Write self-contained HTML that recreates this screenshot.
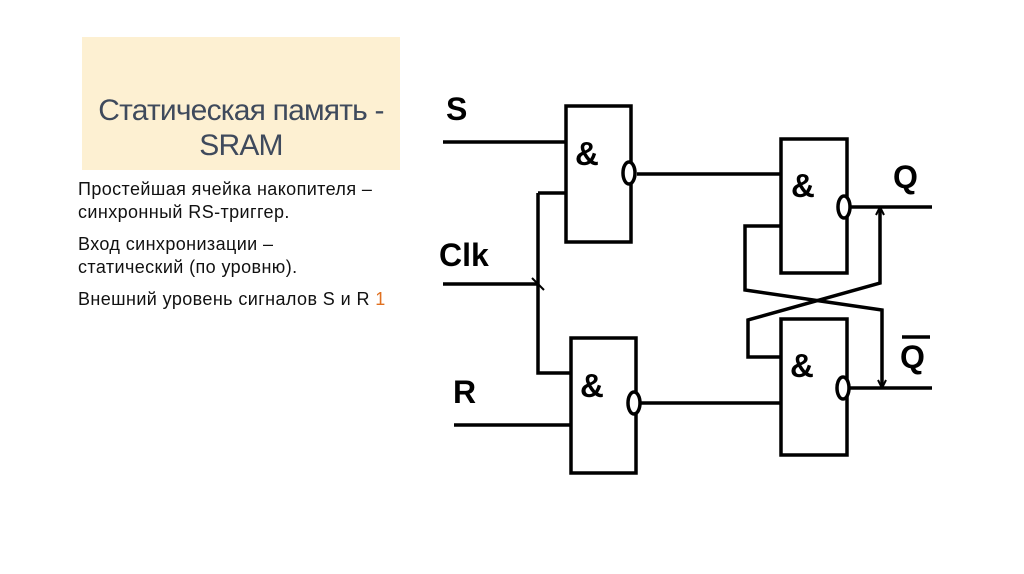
<!DOCTYPE html>
<html><head><meta charset="utf-8"><style>
body{margin:0;width:1024px;height:574px;background:#fff;position:relative;overflow:hidden;font-family:"Liberation Sans",sans-serif}
.box{position:absolute;left:82px;top:37px;width:318px;height:133px;background:#fdf0d2}
.title{position:absolute;left:82px;top:93px;width:318px;text-align:center;font-size:30px;line-height:35px;color:#3f4a5c;letter-spacing:-0.8px}
.t{position:absolute;left:78px;font-size:18px;line-height:22px;color:#111;white-space:nowrap;letter-spacing:0.4px}
.a{position:absolute;font:bold 33px 'Liberation Sans',sans-serif}
.l{position:absolute;font:bold 32px 'Liberation Sans',sans-serif}
</style></head><body>
<div class="box"></div>
<div class="title">Статическая память -<br>SRAM</div>
<div class="t" style="top:178px">Простейшая ячейка накопителя –</div>
<div class="t" style="top:201px">синхронный RS-триггер.</div>
<div class="t" style="top:233px">Вход синхронизации –</div>
<div class="t" style="top:256px">статический (по уровню).</div>
<div class="t" style="top:288px">Внешний уровень сигналов S и R <span style="color:#e07020">1</span></div>
<svg width="1024" height="574" style="position:absolute;left:0;top:0" fill="none" stroke="#000" stroke-width="3.5">
<rect x="566" y="106" width="65" height="136"/>
<rect x="571" y="338" width="65" height="135"/>
<rect x="781" y="139" width="66" height="134"/>
<rect x="781" y="319" width="66" height="136"/>
<ellipse cx="629" cy="173" rx="6" ry="11" fill="#fff"/>
<ellipse cx="634" cy="403" rx="6" ry="11" fill="#fff"/>
<ellipse cx="844" cy="207" rx="6" ry="11" fill="#fff"/>
<ellipse cx="843" cy="388" rx="6" ry="11" fill="#fff"/>
<path d="M443 142H566M637 174H781M640 403H781M454 425H571M443 284H538M538 193H566M538 193V373H571"/>
<path d="M851 207H932M880 207V283L748 320V357H781"/>
<path d="M850 388H932M882 388V310L745 290V226H781"/>
<path d="M532 278l12 12M880 207l-4 8M880 207l4 8M882 388l-4 -8M882 388l4 -8" stroke-width="2"/>
<line x1="902" y1="337" x2="930" y2="337"/>
</svg>
<div class="l" style="left:446px;top:91px">S</div>
<div class="l" style="left:439px;top:237px">Clk</div>
<div class="l" style="left:453px;top:374px">R</div>
<div class="l" style="left:893px;top:159px">Q</div>
<div class="l" style="left:900px;top:339px">Q</div>
<div class="a" style="left:575px;top:135px">&amp;</div>
<div class="a" style="left:580px;top:367px">&amp;</div>
<div class="a" style="left:791px;top:167px">&amp;</div>
<div class="a" style="left:790px;top:347px">&amp;</div>
</body></html>
